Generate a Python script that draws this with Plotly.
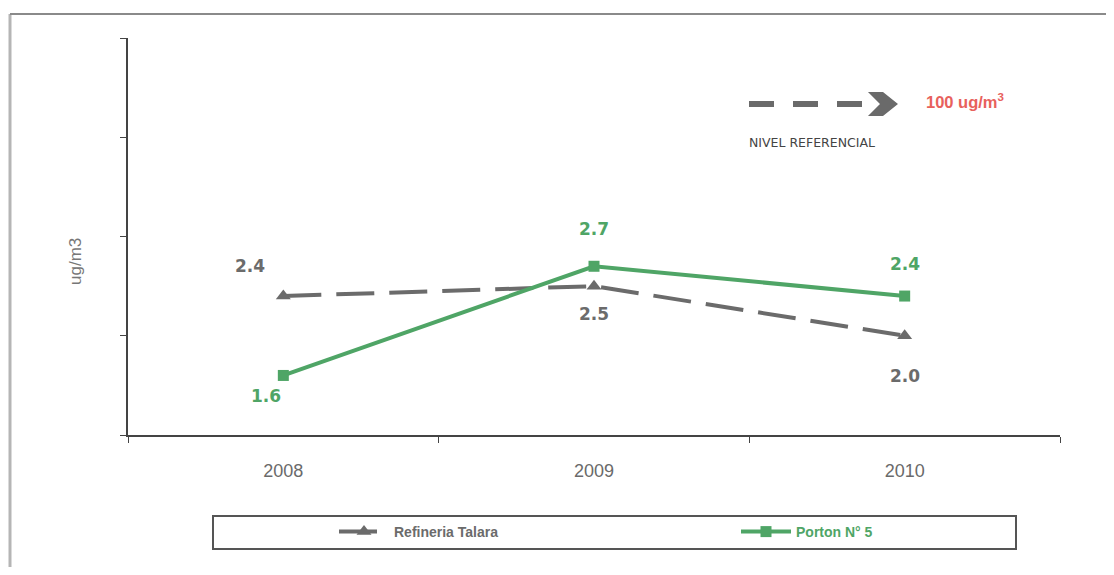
import plotly.graph_objects as go

# datos
years = ["2008", "2009", "2010"]
refineria = [2.4, 2.5, 2.0]
porton = [1.6, 2.7, 2.4]
y_ticks = [1, 2, 3, 4, 5]

GRAY = "#6b6b6b"
GREEN = "#4fa566"
RED = "#e8615c"

# la pagina tiene 8px de margen en el body
OFF = 8
W, H = 1098, 559
L, T = 128 - OFF, 38 - OFF
R, B = W - (1060 - OFF), H - (435 - OFF)
PW, PH = 932, 397


def px(x):
    return (x - 128) / PW


def py(y):
    return (435 - y) / PH


fig = go.Figure()

fig.add_trace(go.Scatter(
    x=years, y=refineria,
    name="<b><span style='color:%s'>Refineria Talara</span></b>" % GRAY,
    mode="lines+markers",
    line=dict(color=GRAY, width=4, dash="38px,15px"),
    marker=dict(symbol="triangle-up", size=13, color=GRAY),
    legend="legend",
))

fig.add_trace(go.Scatter(
    x=years, y=porton,
    name="<b><span style='color:%s'>Porton N° 5</span></b>" % GREEN,
    mode="lines+markers",
    line=dict(color=GREEN, width=4),
    marker=dict(symbol="square", size=11, color=GREEN),
    legend="legend2",
))

# etiquetas de datos
ref_shift = [(-33, 30), (0, -28), (0, -40)]
por_shift = [(-17, -21), (0, 37), (0, 32)]
for i, (v, (dx, dy)) in enumerate(zip(refineria, ref_shift)):
    fig.add_annotation(x=i, y=v, text="<b>%.1f</b>" % v, showarrow=False,
                       xshift=dx, yshift=dy,
                       font=dict(family="DejaVu Sans", size=17, color=GRAY))
for i, (v, (dx, dy)) in enumerate(zip(porton, por_shift)):
    fig.add_annotation(x=i, y=v, text="<b>%.1f</b>" % v, showarrow=False,
                       xshift=dx, yshift=dy,
                       font=dict(family="DejaVu Sans", size=17, color=GREEN))

# titulo del eje y
fig.add_annotation(xref="paper", yref="paper", x=px(75), y=py(262),
                   xanchor="center", yanchor="middle",
                   text="ug/m3", textangle=-90, showarrow=False,
                   font=dict(family="Liberation Sans", size=17, color="#777777"))

# nivel referencial
fig.add_shape(type="line", xref="paper", yref="paper",
              x0=px(749), x1=px(876), y0=py(104), y1=py(104),
              line=dict(color="#6a6a6a", width=6, dash="25px,19px"))
chev = [(868, 92), (883, 92), (898, 104), (883, 116), (868, 116), (880, 104)]
path = "M " + " L ".join("%f,%f" % (px(a), py(b)) for a, b in chev) + " Z"
fig.add_shape(type="path", xref="paper", yref="paper", path=path,
              fillcolor="#6a6a6a", line=dict(width=0))
fig.add_annotation(xref="paper", yref="paper", x=px(924), y=py(101),
                   xanchor="left", yanchor="middle",
                   text="<b>100 ug/m<sup>3</sup></b>", showarrow=False,
                   font=dict(family="Liberation Sans", size=16.5, color=RED))
fig.add_annotation(xref="paper", yref="paper", x=px(747), y=py(142),
                   xanchor="left", yanchor="middle",
                   text="NIVEL REFERENCIAL", showarrow=False,
                   font=dict(family="DejaVu Sans", size=12.5, color="#444444"))

# marco exterior y caja de leyenda
fig.add_shape(type="line", xref="paper", yref="paper",
              x0=px(10), x1=px(10), y0=py(14), y1=py(590),
              line=dict(color="#b5b5b5", width=3))
fig.add_shape(type="line", xref="paper", yref="paper",
              x0=px(10), x1=px(1120), y0=py(14), y1=py(14),
              line=dict(color="#8a8a8a", width=2))
fig.add_shape(type="rect", xref="paper", yref="paper",
              x0=px(213), x1=px(1016), y0=py(549), y1=py(516),
              line=dict(color="#555555", width=2))

leg = dict(orientation="h", y=py(532), xanchor="left", yanchor="middle",
           bgcolor="rgba(0,0,0,0)", itemwidth=50,
           font=dict(family="Liberation Sans", size=14))

fig.update_layout(
    width=W, height=H,
    margin=dict(l=L, r=R, t=T, b=B),
    paper_bgcolor="white", plot_bgcolor="white",
    showlegend=True,
    legend=dict(leg, x=px(334)),
    legend2=dict(leg, x=px(736)),
    xaxis=dict(
        type="category", range=[-0.5, 2.5], tickson="boundaries",
        showline=True, linecolor="#444444", linewidth=1.5,
        ticks="outside", ticklen=6, tickcolor="#444444",
        showgrid=False, zeroline=False, ticklabelstandoff=19,
        tickfont=dict(family="Liberation Sans", size=18, color="#6a6a6a"),
    ),
    yaxis=dict(
        range=[1, 5], tickvals=y_ticks, showticklabels=False,
        showline=True, linecolor="#444444", linewidth=1.5,
        ticks="outside", ticklen=6, tickcolor="#444444",
        showgrid=False, zeroline=False,
    ),
)

fig.write_html("out.html")
